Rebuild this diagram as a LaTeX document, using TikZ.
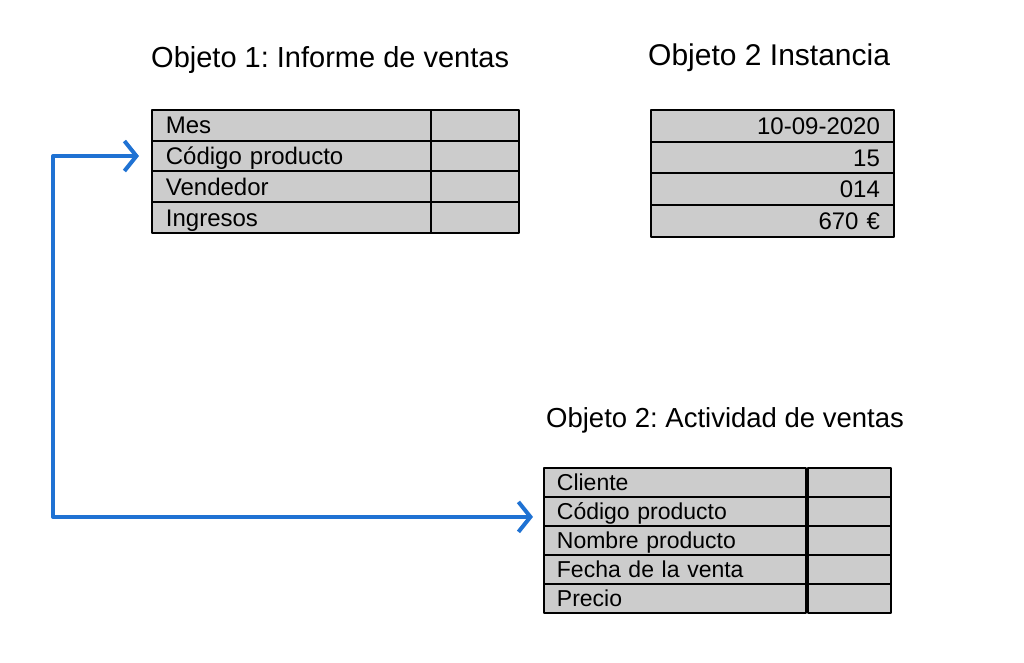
\documentclass[tikz,border=0pt]{standalone}
\usepackage{fontspec}
\setmainfont{Liberation Sans}
\frenchspacing
\usetikzlibrary{arrows.meta,positioning}
\definecolor{cellgray}{HTML}{CCCCCC}
\definecolor{linkblue}{HTML}{1F72D3}
\tikzset{
  every picture/.style={line join=round, line cap=round},
  title/.style={anchor=west, inner sep=0pt},
  cell/.style={draw, fill=cellgray, line width=1.8pt, anchor=north west, inner xsep=14pt, inner ysep=0pt, text height=17pt, text depth=0pt, font=\fontsize{24}{28}\selectfont},
  link/.style={linkblue, line width=4pt, {Straight Barb[length=12pt,width=30pt]}-{Straight Barb[length=12pt,width=30pt]}},
}

\begin{document}
\begin{tikzpicture}[x=1pt,y=-1pt]
\useasboundingbox (0,0) rectangle (1024,663);
% titles
\node[title,font=\fontsize{29}{34}\selectfont] (tinforme) at (151,60) {Objeto 1: Informe de ventas};
\node[title,font=\fontsize{30}{35}\selectfont] (tinst) at (648,58) {Objeto 2 Instancia};
\node[title,font=\fontsize{27.5}{32}\selectfont] (tactiv) at (546,420) {Objeto 2: Actividad de ventas};
% objeto 1
\foreach \lbl [count=\i] in {Mes, Código producto, Vendedor, Ingresos}{
  \node[cell,text width=251pt,minimum height=30.75pt,align=left] (inf\i) at (151,{109+30.75*(\i-1)}) {\lbl};
  \node[cell,minimum width=88pt,minimum height=30.75pt] (infv\i) at (430,{109+30.75*(\i-1)}) {};
}
% instancia
\foreach \val [count=\i] in {10-09-2020, 15, 014, 670 €}{
  \node[cell,text width=215pt,minimum height=31.75pt,align=right] (inst\i) at (650,{109+31.75*(\i-1)}) {\val};
}
% objeto 2
\foreach \lbl [count=\i] in {Cliente, Código producto, Nombre producto, Fecha de la venta, Precio}{
  \node[cell,text width=236pt,minimum height=29pt,align=left,font=\fontsize{23}{27}\selectfont,inner xsep=13pt] (act\i) at (543,{467+29*(\i-1)}) {\lbl};
  \node[cell,minimum width=83pt,minimum height=29pt] (actv\i) at (807,{467+29*(\i-1)}) {};
}
% enlace
\draw[link] ([xshift=-12pt]inf2.west) -- ++(-86,0) |- ([xshift=-10pt,yshift=-5.5pt]act2.west);
\end{tikzpicture}
\end{document}
